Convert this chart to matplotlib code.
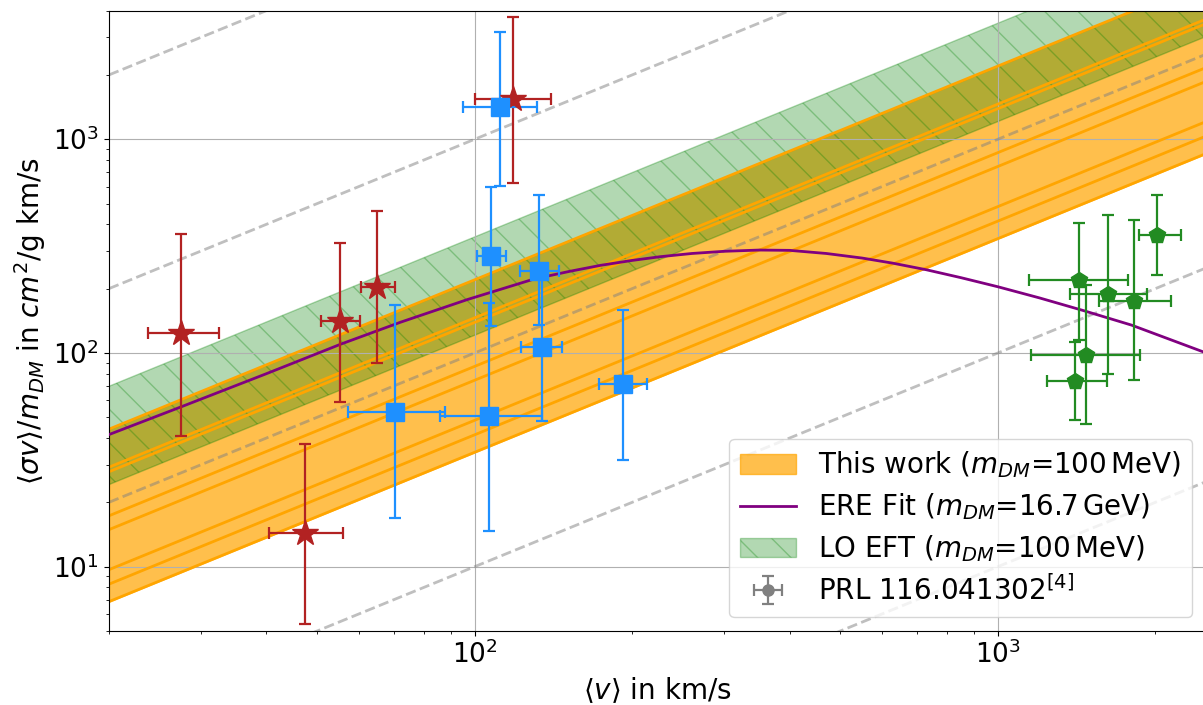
"""
Velocity-dependent self-interaction cross section versus mean velocity.

Compares the band from this work, an ERE fit and the LO EFT band with
halo data points from PRL 116.041302.
"""

import numpy as np
import matplotlib

matplotlib.use("Agg")
import matplotlib.pyplot as plt


# -------------------------------------------------------------------
# Data
# -------------------------------------------------------------------
V_ENDS = [20.0, 2500.0]

# This work: individual curves (values at v = 20 and v = 2500 km/s)
THIS_WORK_LINES = [
    [44.0, 5500.0],
    [29.2, 3650.0],
    [27.8, 3475.0],
    [17.3, 2165.0],
    [14.9, 1865.0],
    [9.68, 1210.0],
    [8.28, 1035.0],
    [6.86, 857.0],
]

# LO EFT band edges
LO_EFT_UPPER = [69.8, 8725.0]
LO_EFT_LOWER = [24.2, 3025.0]

# Dashed guide lines (sigma/m constant)
GUIDE_LINES = [
    [2000.0, 250000.0],
    [200.0, 25000.0],
    [20.0, 2500.0],
    [2.0, 250.0],
    [0.2, 25.0],
]

# ERE fit curve
ERE_V = [20.0, 27.5, 40.0, 55.5, 72.0, 97.0, 130.0, 152.0, 174.0, 200.0,
         226.0, 260.0, 300.0, 350.0, 400.0, 470.0, 550.0, 630.0, 730.0,
         850.0, 1000.0, 1200.0, 1455.0, 1800.0, 2500.0]
ERE_Y = [41.5, 56.0, 80.0, 110.0, 139.0, 178.0, 222.0, 241.0, 257.0, 271.0,
         282.0, 292.0, 299.0, 303.0, 302.0, 292.0, 278.0, 263.0, 245.0,
         225.0, 204.0, 181.0, 158.0, 135.0, 100.0]

# Dwarf galaxies (red stars)
DWARF_V = [27.5, 47.4, 55.3, 65.0, 118.6]
DWARF_V_LO = [23.7, 40.4, 50.8, 60.6, 100.0]
DWARF_V_HI = [32.5, 56.0, 60.4, 70.3, 140.0]
DWARF_Y = [124.0, 14.4, 140.6, 203.0, 1549.0]
DWARF_Y_LO = [40.7, 5.41, 58.8, 89.4, 622.0]
DWARF_Y_HI = [360.0, 37.5, 327.0, 464.0, 3733.0]

# LSB galaxies (blue squares)
LSB_V = [112.0, 107.6, 132.9, 106.5, 70.5, 191.8, 134.6]
LSB_V_LO = [95.1, 100.9, 121.8, 85.9, 57.2, 173.0, 122.7]
LSB_V_HI = [131.3, 114.6, 145.2, 134.6, 87.8, 213.0, 146.8]
LSB_Y = [1413.0, 284.0, 241.0, 50.8, 53.1, 71.6, 107.0]
LSB_Y_LO = [603.0, 134.0, 135.0, 14.7, 16.8, 31.6, 47.9]
LSB_Y_HI = [3177.0, 597.0, 550.0, 171.0, 168.0, 159.0, 240.0]

# Clusters (green pentagons)
CLUSTER_V = [2018.0, 1428.0, 1622.0, 1818.0, 1471.0, 1406.0]
CLUSTER_V_LO = [1858.0, 1146.0, 1372.0, 1563.0, 1159.0, 1239.0]
CLUSTER_V_HI = [2240.0, 1775.0, 1923.0, 2143.0, 1866.0, 1613.0]
CLUSTER_Y = [357.0, 220.0, 189.0, 175.0, 97.9, 74.1]
CLUSTER_Y_LO = [232.0, 115.0, 79.8, 74.8, 46.4, 48.5]
CLUSTER_Y_HI = [546.0, 406.0, 443.0, 417.0, 207.0, 113.0]


# -------------------------------------------------------------------
# Helpers
# -------------------------------------------------------------------
def asym(center, lo, hi):
    """Turn lower/upper bounds into matplotlib's asymmetric error array."""
    c = np.asarray(center)
    return [c - np.asarray(lo), np.asarray(hi) - c]


def plot_points(ax, v, vlo, vhi, y, ylo, yhi, color, marker, size):
    ax.errorbar(
        v, y,
        xerr=asym(v, vlo, vhi),
        yerr=asym(y, ylo, yhi),
        fmt=marker, color=color, markersize=size,
        elinewidth=1.6, capsize=4, capthick=1.6, zorder=5,
    )


# -------------------------------------------------------------------
# Plot
# -------------------------------------------------------------------
def main() -> None:
    fig = plt.figure(figsize=(12.03, 7.05), dpi=100)
    ax = fig.add_axes([0.0906, 0.105, 0.912, 0.880])
    ax.set_xscale("log")
    ax.set_yscale("log")

    for guide in GUIDE_LINES:
        ax.plot(V_ENDS, guide, ls="--", color="grey", alpha=0.5, lw=2,
                zorder=2.5)

    lines = np.array(THIS_WORK_LINES)
    this_work = ax.fill_between(V_ENDS, lines.min(axis=0), lines.max(axis=0),
                                color="orange", alpha=0.7, lw=1, zorder=1)
    lo_eft = ax.fill_between(V_ENDS, LO_EFT_LOWER, LO_EFT_UPPER,
                             facecolor="green", edgecolor="green", alpha=0.3,
                             hatch="\\", lw=1, zorder=1.2)
    for row in THIS_WORK_LINES:
        ax.plot(V_ENDS, row, color="orange", lw=2, zorder=2)

    (ere,) = ax.plot(ERE_V, ERE_Y, color="purple", lw=2, zorder=3)

    plot_points(ax, DWARF_V, DWARF_V_LO, DWARF_V_HI,
                DWARF_Y, DWARF_Y_LO, DWARF_Y_HI, "firebrick", "*", 19)
    plot_points(ax, LSB_V, LSB_V_LO, LSB_V_HI,
                LSB_Y, LSB_Y_LO, LSB_Y_HI, "dodgerblue", "s", 13)
    plot_points(ax, CLUSTER_V, CLUSTER_V_LO, CLUSTER_V_HI,
                CLUSTER_Y, CLUSTER_Y_LO, CLUSTER_Y_HI, "forestgreen", "p", 12)

    prl = ax.errorbar([np.nan], [np.nan], xerr=[1.0], yerr=[1.0], fmt="o",
                      color="grey", markersize=8, elinewidth=1.6,
                      capsize=4, capthick=1.6)

    ax.set_xlim(20, 2500)
    ax.set_ylim(5, 4000)
    ax.grid(True, which="major")
    ax.tick_params(labelsize=19)
    ax.set_xlabel(r"$\langle v \rangle$ in km/s", fontsize=20)
    ax.set_ylabel(r"$\langle \sigma v \rangle / m_{DM}$ in $cm^2$/g km/s",
                  fontsize=20)

    ax.legend(
        [this_work, ere, lo_eft, prl],
        [
            r"This work ($m_{DM}$=100$\,$MeV)",
            r"ERE Fit ($m_{DM}$=16.7$\,$GeV)",
            r"LO EFT ($m_{DM}$=100$\,$MeV)",
            r"PRL 116.041302$^{[4]}$",
        ],
        loc="lower right",
        fontsize=20,
        labelspacing=0.4,
    )

    fig.savefig("out.png", dpi=100)
    plt.close(fig)


if __name__ == "__main__":
    main()
